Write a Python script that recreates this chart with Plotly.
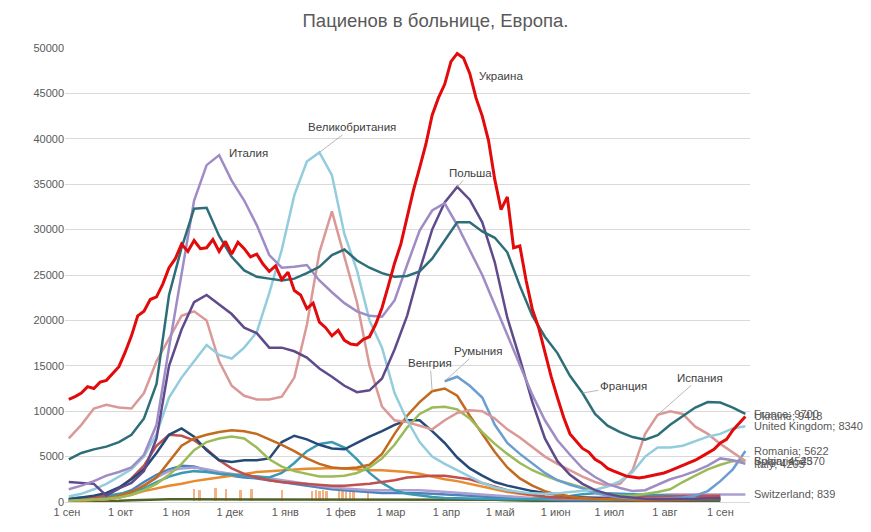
import pandas as pd
import plotly.graph_objects as go

# ---------------- data (weekly readings, start 2020-09-02) ----------------
start_date = "2020-09-02"
n_weeks = 55

# Ukraine read twice a week (every 3.5 days)
ukraine = [11300, 11600, 12000, 12700, 12500, 13200, 13400, 14100, 14900, 16500,
           18300, 20500, 21000, 22300, 22600, 24000, 25800, 26800, 28400, 27600,
           28800, 27900, 28000, 28900, 27600, 28700, 27300, 28600, 27900, 27000,
           27300, 26200, 25400, 26000, 24500, 25300, 23300, 22800, 21300, 21900,
           19800, 19200, 18300, 18900, 17800, 17400, 17300, 17900, 18200, 19600,
           21400, 23800, 26300, 28400, 31500, 34300, 36800, 39400, 42600, 44500,
           46000, 48500, 49400, 48900, 47200, 44500, 42500, 39800, 35500, 32200,
           33600, 28000, 28200, 24400, 21200, 19200, 16500, 13800, 11500, 9300,
           7500, 6700, 5900, 5500, 4700, 4300, 3700, 3400, 3100, 2850,
           2750, 2650, 2750, 2900, 3050, 3200, 3450, 3750, 4000, 4300,
           4600, 5000, 5400, 5800, 6500, 6900, 7900, 8700, 9418]
italy = [1400, 1800, 2300, 2900, 3300, 3800, 5200, 8500, 17000, 25200,
         33200, 37100, 38200, 35400, 33200, 30500, 27200, 25800, 25900, 26100,
         24400, 23100, 21900, 21000, 20500, 20400, 22200, 26100, 29900, 32100,
         32900, 30500, 27700, 25000, 21700, 18400, 15100, 11800, 9000, 6800,
         5200, 3700, 2750, 2000, 1540, 1200, 1300, 1900, 2500, 2900,
         3400, 4000, 4800, 4600, 4205]
france = [4700, 5400, 5800, 6100, 6600, 7400, 9200, 13000, 22800, 28000,
          32300, 32400, 29300, 27000, 25500, 24800, 24600, 24400, 24600, 25200,
          25900, 27200, 27800, 26600, 25800, 25200, 24800, 24900, 25400, 26800,
          28800, 30800, 30800, 29800, 29100, 27500, 23800, 20500, 18200, 16400,
          13900, 12000, 9700, 8400, 7700, 7150, 6850, 7350, 8500, 9500,
          10400, 11000, 10950, 10400, 9700]
uk = [600, 900, 1400, 2000, 2800, 3600, 5000, 7500, 11500, 13700,
      15500, 17300, 16200, 15800, 17000, 18700, 23000, 27800, 33800, 37500,
      38500, 36000, 29500, 25500, 20000, 17000, 12000, 9000, 6600, 5000,
      4200, 3500, 2800, 2100, 1600, 1300, 1100, 950, 900, 950,
      1100, 1200, 1350, 1700, 2300, 3300, 5000, 6000, 6000, 6200,
      6700, 7200, 7500, 8100, 8340]
spain = [7000, 8500, 10300, 10700, 10400, 10300, 12000, 15500, 18000, 20500,
         21000, 20000, 15500, 12800, 11700, 11300, 11300, 11600, 13700, 19500,
         27500, 32000, 27000, 22000, 15000, 10500, 9000, 8800, 8400, 8000,
         9000, 9800, 10100, 10000, 9200, 8000, 7100, 6000, 5000, 4200,
         3500, 2800, 2200, 1800, 2000, 3500, 7500, 9600, 10000, 9700,
         8300, 7500, 6400, 5500, 4523]
poland = [2200, 2100, 2000, 700, 1500, 2100, 3400, 7000, 15000, 19000,
          22000, 22800, 21800, 20700, 19200, 18600, 17000, 17000, 16600, 15900,
          14700, 13800, 12800, 12100, 12300, 13600, 16800, 20500, 25500, 30000,
          33000, 34700, 33300, 30800, 26400, 20300, 15800, 11000, 7000, 4500,
          3000, 2000, 1300, 900, 600, 450, 350, 300, 300, 300,
          350, 400, 450, None, None]
czech = [300, 500, 700, 1000, 1600, 2500, 3600, 5400, 7400, 8100,
         7200, 5700, 4600, 4400, 4600, 4600, 4800, 6600, 7300, 6900,
         6300, 5900, 5800, 6500, 7200, 7800, 8500, 9000, 9000, 7800,
         6500, 4900, 3700, 2900, 2200, 1800, 1500, 1200, 1000, 800,
         600, 500, 400, 350, 300, 250, 250, 250, 250, 300,
         300, 300, 300, None, None]
belgium = [300, 350, 500, 800, 1500, 2600, 4000, 6200, 7400, 7300,
           6800, 5800, 4600, 3700, 3100, 2700, 2400, 2200, 2100, 2000,
           1900, 1800, 1800, 1900, 2000, 2200, 2400, 2700, 2800, 2900,
           2900, 2700, 2500, 2100, 1700, 1300, 1000, 800, 600, 500,
           450, 400, 400, 400, 450, 500, 550, 600, 650, 700,
           700, 700, 700, None, None]
hungary = [100, 150, 250, 400, 700, 1100, 1800, 2700, 4500, 6200,
           7000, 7400, 7700, 7900, 7800, 7500, 6900, 6300, 5600, 4800,
           4200, 3800, 3700, 3800, 4100, 5300, 7500, 9500, 11000, 12200,
           12500, 11700, 9500, 7500, 5500, 3800, 2600, 1800, 1200, 800,
           600, 450, 350, 300, 250, 200, 200, 200, 200, 250,
           300, 350, 400, None, None]
bulgaria = [150, 200, 250, 350, 500, 800, 1300, 2000, 3000, 4200,
            5700, 6600, 7000, 7200, 7000, 6000, 4700, 3900, 3400, 3100,
            2800, 2800, 2900, 3200, 3800, 4800, 6300, 8200, 9700, 10400,
            10500, 10200, 9200, 7700, 6400, 5300, 4300, 3500, 2900, 2400,
            2000, 1600, 1200, 900, 700, 700, 900, 1100, 1400, 2200,
            2900, 3600, 4100, 4500, 4570]
romania = [None] * 30 + [13300, 13800, 12800, 11500, 8500, 6500, 5300, 4200, 3200, 2400,
                         1900, 1500, 1000, 700, 500, 400, 350, 350, 400, 500,
                         700, 1200, 2300, 3600, 5622]
portugal = [400, 450, 550, 700, 900, 1100, 1500, 2200, 2800, 3200,
            3400, 3300, 3100, 3000, 2900, 2800, 2700, 3200, 4300, 5600,
            6400, 6600, 6000, 4700, 3200, 2100, 1300, 900, 700, 550,
            450, 400, 380, 350, 320, 300, 300, 320, 400, 500,
            650, 850, 950, 950, 900, 850, 800, 750, 700, 650,
            600, 550, 500, None, None]
germany = [100, 150, 200, 300, 500, 800, 1200, 1500, 1800, 2000,
           2300, 2500, 2700, 2900, 3100, 3300, 3400, 3500, 3600, 3650,
           3700, 3750, 3700, 3600, 3500, 3500, 3400, 3300, 3100, 2800,
           2500, 2300, 2000, 1700, 1400, 1100, 900, 700, 550, 450,
           400, 350, 300, 300, 300, 300, 300, 300, 300, 300,
           300, 300, 300, None, None]
austria = [200, 250, 350, 500, 800, 1300, 2200, 3000, 3600, 4000,
           3900, 3500, 3100, 2900, 2700, 2600, 2400, 2200, 2000, 1800,
           1600, 1400, 1300, 1200, 1100, 1000, 1000, 1000, 950, 900,
           850, 800, 700, 600, 500, 400, 350, 300, 250, 200,
           200, 200, 200, 200, 200, 250, 250, 250, 250, 250,
           250, 250, 250, None, None]
switzerland = [150, 200, 250, 300, 500, 900, 1800, 2700, 3400, 3700,
               3800, 3600, 3300, 3100, 2900, 2800, 2600, 2400, 2200, 2000,
               1800, 1600, 1500, 1400, 1300, 1300, 1300, 1300, 1300, 1200,
               1100, 1000, 900, 800, 700, 600, 500, 450, 400, 400,
               450, 500, 550, 650, 700, 750, 800, 800, 820, 830,
               830, 835, 839, 839, 839]
dark_green = [100, 100, 100, 120, 150, 200, 250, 300, 300, 300,
              300, 300, 300, 300, 300, 300, 300, 300, 300, 300,
              300, 300, 300, 300, 300, 300, 300, 300, 300, 300,
              300, 300, 300, 300, 250, 200, 150, 150, 150, 150,
              150, 150, 150, 150, 150, 150, 150, 150, 150, 150,
              150, 150, 150, None, None]

# sparse, irregularly reported series (shows as peach spikes at the bottom)
spike_dates = ["2020-11-11", "2020-11-14", "2020-11-23", "2020-11-29", "2020-12-07",
               "2020-12-13", "2020-12-30", "2021-01-16", "2021-01-18", "2021-01-20",
               "2021-01-22", "2021-01-24", "2021-01-31", "2021-02-02", "2021-02-04",
               "2021-02-06", "2021-02-08", "2021-02-16"]
spike_values = [1300, 1200, 1400, 1300, 1200, 1300, 1200, 1100, 1150, 1100,
                1150, 1100, 1050, 1100, 1050, 1100, 1050, 900]

tick_dates = ["2020-09-01", "2020-10-01", "2020-11-01", "2020-12-01", "2021-01-01",
              "2021-02-01", "2021-03-01", "2021-04-01", "2021-05-01", "2021-06-01",
              "2021-07-01", "2021-08-01", "2021-09-01"]
tick_labels = ["1 сен", "1 окт", "1 ноя", "1 дек", "1 янв", "1 фев", "1 мар",
               "1 апр", "1 май", "1 июн", "1 июл", "1 авг", "1 сен"]
y_ticks = [0, 5000, 10000, 15000, 20000, 25000, 30000, 35000, 40000, 45000, 50000]

dates = pd.date_range(start_date, periods=n_weeks, freq="7D")
dates_half = pd.date_range(start_date, periods=len(ukraine), freq="84h")

fig = go.Figure()
fig.add_trace(go.Bar(x=pd.to_datetime(spike_dates), y=spike_values, base=150,
                     width=1.3 * 24 * 3600 * 1000, marker=dict(color="#F4B183", line=dict(width=0)),
                     name="spikes", hoverinfo="skip"))

# draw order: small ones first, big ones on top
series = [
    ("Dark green", dates, dark_green, "#4F6228", 2.5),
    ("Austria", dates, austria, "#4F81BD", 2.5),
    ("Switzerland", dates, switzerland, "#A99FD0", 2.5),
    ("Germany", dates, germany, "#E98A2E", 2.5),
    ("Portugal", dates, portugal, "#3A9AB3", 2.5),
    ("Belgium", dates, belgium, "#C0504D", 2.5),
    ("Czechia", dates, czech, "#254A78", 2.5),
    ("Hungary", dates, hungary, "#C26A1E", 2.5),
    ("Bulgaria", dates, bulgaria, "#9BBB59", 2.5),
    ("Romania", dates, romania, "#6C9DD2", 2.5),
    ("Spain", dates, spain, "#DA9896", 2.5),
    ("United Kingdom", dates, uk, "#93CDDD", 2.5),
    ("Poland", dates, poland, "#5F4B8B", 2.5),
    ("Italy", dates, italy, "#9F8CC5", 2.5),
    ("France", dates, france, "#2E6E78", 2.5),
    ("Ukraine", dates_half, ukraine, "#E20A0A", 3),
]
for name, xs, vals, color, w in series:
    fig.add_trace(go.Scatter(x=xs, y=vals, mode="lines", name=name,
                             line=dict(color=color, width=w), connectgaps=False))

FONT = "Liberation Sans, Arial, sans-serif"
ann = []
def lab(text, xs, idx, vals, ax, ay, arrow=True):
    a = dict(x=xs[idx], y=vals[idx], text=text, showarrow=arrow,
             font=dict(size=11.5, color="#404040", family=FONT))
    if arrow:
        a.update(ax=ax, ay=ay, arrowhead=0, arrowwidth=0.8, arrowcolor="#A6A6A6")
    else:
        a.update(xshift=ax, yshift=-ay)
    ann.append(a)

lab("Италия", dates, 12, italy, 29, -2, arrow=False)
lab("Великобритания", dates, 20, uk, 33, -25)
lab("Украина", dates_half, 62, ukraine, 44, 23, arrow=False)
lab("Польша", dates, 31, poland, 13, -14)
lab("Венгрия", dates, 29, hungary, -2, -28)
lab("Румыния", dates, 30, romania, 33, -30)
lab("Франция", dates, 41, france, 41, -7)
lab("Испания", dates, 47, spain, 42, -37)

# end labels
end_labels = [("France", dates, france), ("Ukraine", dates_half, ukraine),
              ("United Kingdom", dates, uk), ("Romania", dates, romania),
              ("Bulgaria", dates, bulgaria), ("Spain", dates, spain),
              ("Italy", dates, italy), ("Switzerland", dates, switzerland)]
for name, xs, vals in end_labels:
    v = vals[-1]
    ann.append(dict(x=dates[-1], y=v, text=f"{name}; {v}", showarrow=False,
                    xanchor="left", xshift=7,
                    font=dict(size=11, color="#595959", family=FONT)))

fig.update_layout(
    width=871, height=532,
    margin=dict(l=65, r=121, t=48, b=30),
    paper_bgcolor="white", plot_bgcolor="white",
    showlegend=False, bargap=0,
    title=dict(text="Пациенов в больнице, Европа.", x=0.5, xanchor="center",
               y=0.962, yanchor="middle",
               font=dict(size=18.5, color="#595959", family=FONT)),
    annotations=ann,
    font=dict(family=FONT, color="#595959"),
)
fig.update_xaxes(range=["2020-08-30 21:00", "2021-09-17 14:00"],
                 tickmode="array", tickvals=tick_dates, ticktext=tick_labels,
                 showgrid=False, showline=True, linecolor="#D9D9D9", linewidth=1,
                 ticks="", tickfont=dict(size=11, color="#595959"), zeroline=False)
fig.update_yaxes(range=[0, 50000], tickmode="array", tickvals=y_ticks,
                 ticktext=[str(t) for t in y_ticks],
                 showgrid=True, gridcolor="#D9D9D9", gridwidth=1, zeroline=False,
                 ticks="", tickfont=dict(size=11, color="#595959"))

fig.write_html("out.html", config={"displayModeBar": False},
               post_script="document.body.style.margin='0';document.body.style.overflow='hidden';")
